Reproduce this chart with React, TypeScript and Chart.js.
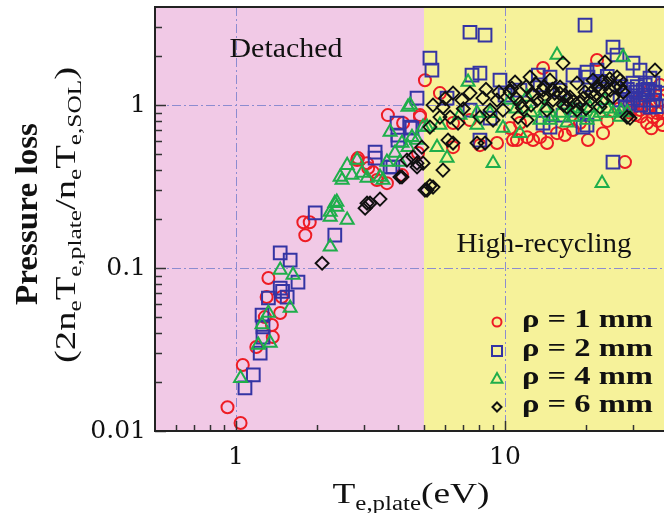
import { useEffect, useRef } from 'react';
import { Chart, registerables } from 'chart.js';

Chart.register(...registerables);

// ---- axes ----
const X_MIN = 0.5;
const X_MAX = 39;
const Y_MIN = 0.01;
const Y_MAX = 4;
const REGION_SPLIT = 5;
const X_TICKS = [0.6, 0.7, 0.8, 0.9, 1, 2, 3, 4, 5, 6, 7, 8, 9, 10, 20, 30];
const X_LABELED = [1, 10];
const Y_TICKS = [0.01, 0.02, 0.03, 0.04, 0.05, 0.06, 0.07, 0.08, 0.09, 0.1, 0.2, 0.3, 0.4, 0.5, 0.6, 0.7, 0.8, 0.9, 1, 2, 3];
const Y_LABELED = [0.01, 0.1, 1];
const GRID_X = [1, 10];
const GRID_Y = [0.1, 1];

// ---- texts ----
const SERIES_LABELS = ['ρ = 1 mm', 'ρ = 2 mm', 'ρ = 4 mm', 'ρ = 6 mm'];
const REGION_LABELS = ['Detached', 'High-recycling'];

// ---- data: [T_e,plate (eV), pressure loss] ----
const RHO1: [number, number][] = [
  [0.93, 0.014], [1.04, 0.0112], [1.06, 0.0254], [1.19, 0.0328], [1.37, 0.0377], [1.36, 0.0447],
  [1.28, 0.05], [1.3, 0.0664], [1.32, 0.0868], [1.46, 0.053], [1.48, 0.0664], [1.78, 0.191],
  [1.81, 0.159], [1.88, 0.191], [2.82, 0.46], [2.84, 0.473], [3.07, 0.44], [3.1, 0.411],
  [3.23, 0.388], [3.34, 0.347], [3.64, 0.332], [3.67, 0.868], [4.18, 0.776], [4.83, 0.868],
  [4.83, 0.844], [4.75, 0.508], [4.14, 0.372], [5.04, 1.42], [5.73, 1.185], [6.41, 0.776],
  [6.41, 0.552], [8.07, 0.568], [9.34, 0.585], [10.71, 0.61], [12.07, 0.636], [13.85, 1.69],
  [21.98, 1.89], [13.5, 0.636], [14.33, 0.585], [15.61, 0.673], [20.35, 0.61], [23.14, 0.673],
  [17.89, 0.703], [12.71, 0.61], [11.08, 0.61], [10.44, 0.723], [11.37, 0.776], [33.72, 0.776],
  [36.74, 0.893], [37.69, 1.073], [31.76, 0.932], [35.49, 0.844], [29.91, 0.972], [33.72, 1.12],
  [27.93, 0.447], [34.6, 1.236], [37.7, 1.33], [30.6, 0.868], [38.5, 0.754], [16.7, 0.655],
  [7.41, 0.809], [26.5, 0.95], [24.0, 0.8], [19.0, 0.78], [32.0, 0.85], [34.0, 0.95],
  [36.0, 1.05], [38.0, 0.9], [31.0, 1.05], [35.0, 0.72], [37.0, 0.8], [33.0, 1.0], [29.0, 0.9],
];
const RHO2: [number, number][] = [
  [1.08, 0.0184], [1.16, 0.0221], [1.23, 0.0301], [1.26, 0.0377], [1.26, 0.0435], [1.25, 0.0515],
  [1.32, 0.0655], [1.46, 0.0754], [1.49, 0.072], [1.59, 0.112], [1.46, 0.124], [1.7, 0.082],
  [1.55, 0.0664], [1.97, 0.218], [2.33, 0.159], [3.29, 0.515], [3.29, 0.473], [3.74, 0.417],
  [3.83, 0.417], [3.97, 0.776], [4.51, 0.723], [4.0, 0.655], [4.0, 0.61], [4.71, 1.104],
  [4.44, 0.733], [5.26, 1.94], [5.35, 1.64], [7.41, 2.8], [8.43, 2.69], [7.54, 1.528],
  [8.07, 1.571], [9.58, 1.423], [6.09, 1.104], [8.8, 0.832], [8.07, 0.61], [19.84, 3.1],
  [25.2, 2.27], [26.09, 2.03], [20.18, 1.594], [21.98, 1.64], [17.89, 1.528], [29.91, 1.81],
  [31.76, 1.64], [34.6, 1.464], [29.91, 1.365], [32.59, 1.236], [35.49, 1.365], [31.76, 1.073],
  [29.15, 1.029], [35.49, 1.073], [34.6, 0.972], [37.69, 1.185], [27.93, 1.15], [30.6, 1.2],
  [33.2, 1.33], [26.77, 1.073], [20.18, 0.754], [25.2, 0.447], [13.85, 0.776], [14.7, 0.733],
  [16.43, 0.868], [18.2, 0.932], [13.5, 1.33], [11.37, 1.236], [16.02, 1.236], [20.7, 1.33],
  [10.0, 1.15], [7.41, 0.932], [14.7, 1.485], [20.35, 1.485], [19.5, 0.733], [13.3, 1.53],
  [28.5, 1.25], [31.0, 1.3], [33.0, 1.15], [34.0, 1.25], [36.0, 1.2], [30.0, 1.1], [32.0, 1.0],
  [27.0, 1.3], [28.0, 0.98], [36.5, 0.98], [24.0, 1.5], [22.5, 1.4],
];
const RHO4: [number, number][] = [
  [1.04, 0.0211], [1.21, 0.0337], [1.34, 0.0347], [1.32, 0.053], [1.59, 0.0568], [1.46, 0.0972],
  [1.63, 0.0906], [2.24, 0.135], [2.24, 0.206], [2.37, 0.237], [2.59, 0.197], [2.33, 0.25],
  [2.24, 0.221], [2.37, 0.254], [2.59, 0.428], [2.82, 0.46], [2.44, 0.362], [2.7, 0.372],
  [3.07, 0.357], [3.43, 0.362], [3.64, 0.447], [3.9, 0.508], [4.07, 0.447], [4.36, 0.552],
  [2.48, 0.347], [2.94, 0.383], [3.52, 0.347], [3.74, 0.683], [4.14, 0.585], [4.51, 0.636],
  [4.96, 0.733], [4.36, 0.972], [4.44, 1.0], [4.71, 0.61], [7.29, 1.384], [5.13, 0.733],
  [5.59, 0.552], [6.09, 0.473], [7.87, 0.754], [7.87, 0.893], [9.83, 0.723], [11.37, 0.673],
  [9.03, 0.44], [15.61, 2.03], [27.47, 1.97], [14.7, 0.809], [17.89, 0.844], [22.56, 0.893],
  [25.2, 0.893], [26.77, 0.844], [20.18, 0.809], [16.02, 0.893], [13.5, 0.809], [12.07, 1.12],
  [10.44, 1.073], [22.95, 0.332], [16.7, 1.0], [20.7, 0.96], [23.5, 1.07], [14.1, 0.96],
  [6.8, 0.87], [8.8, 0.89], [5.73, 0.754], [1.25, 0.045], [18.0, 0.95], [19.0, 0.9],
  [21.5, 0.85], [24.0, 0.95], [15.0, 0.85], [12.5, 0.9], [11.0, 0.95], [27.0, 0.92],
  [28.5, 0.9], [17.0, 0.78],
];
const RHO6: [number, number][] = [
  [2.09, 0.107], [3.07, 0.25], [3.15, 0.25], [3.43, 0.265], [3.02, 0.233], [4.07, 0.362],
  [4.14, 0.362], [4.32, 0.46], [4.71, 0.417], [4.71, 0.44], [4.91, 0.552], [5.04, 0.301],
  [5.13, 0.301], [5.4, 0.314], [5.26, 0.32], [4.55, 0.48], [4.96, 0.44], [5.88, 0.399],
  [6.14, 0.61], [6.41, 0.585], [7.87, 0.585], [8.43, 0.585], [5.4, 1.0], [5.88, 0.972],
  [6.41, 1.185], [6.92, 1.073], [7.41, 1.185], [8.28, 1.104], [5.73, 0.844], [6.25, 0.844],
  [6.69, 0.776], [5.26, 0.733], [10.9, 1.384], [10.44, 1.202], [9.34, 1.073], [8.8, 0.932],
  [9.83, 0.932], [8.07, 0.844], [9.03, 0.809], [11.37, 1.029], [12.07, 0.809], [11.18, 0.844],
  [12.39, 1.485], [14.7, 1.423], [16.02, 1.29], [17.44, 1.12], [19.0, 1.029], [20.7, 1.073],
  [22.56, 1.236], [23.95, 1.365], [26.09, 1.485], [26.77, 1.29], [25.2, 1.12], [21.24, 1.423],
  [18.52, 1.365], [13.85, 1.236], [15.08, 1.073], [17.0, 0.972], [13.15, 1.073], [14.33, 0.932],
  [18.52, 0.932], [22.56, 0.972], [28.41, 0.844], [23.54, 1.836], [16.43, 1.81], [36.11, 1.64],
  [29.15, 0.832], [19.84, 1.2], [21.6, 1.15], [24.6, 1.236], [26.8, 1.42], [16.7, 1.15],
  [15.3, 1.185], [12.7, 1.15], [11.6, 0.96], [10.6, 1.27], [14.0, 1.3], [15.0, 1.25],
  [16.0, 1.18], [17.0, 1.08], [18.0, 1.05], [19.5, 1.1], [21.0, 1.2], [22.0, 1.3], [23.0, 1.4],
  [24.5, 1.45], [25.5, 1.3], [27.5, 1.2], [13.0, 1.35], [12.0, 1.3], [12.5, 1.0], [14.0, 1.1],
  [16.5, 1.0], [23.0, 1.05], [20.0, 0.95], [9.5, 1.2], [8.5, 1.25], [7.0, 0.95], [6.0, 1.1],
  [11.0, 1.1],
];

// ---- styles ----
const PINK = '#f1c9e6';
const YELLOW = '#f6f29a';
const GRID_COLOR = '#8c8cd0';
const COLORS = ['#ee1c24', '#3434a4', '#1fae4b', '#111111'];
const STYLES = ['circle', 'rect', 'triangle', 'rectRot'];
const RADII = [6, 9, 7.5, 6.5];
const SERIF = '"Liberation Serif", "Times New Roman", serif';

const near = (v: number, list: number[]) => list.some((t) => Math.abs(v - t) / t < 1e-6);

type Seg = { t: string; sub?: boolean };

function drawRich(
  ctx: CanvasRenderingContext2D,
  segs: Seg[],
  mainFont: string,
  subFont: string,
  subShift: number,
  cx: number,
  cy: number,
  targetW: number,
  rotate: boolean,
  anchorLeft = false,
) {
  ctx.save();
  const widths = segs.map((s) => {
    ctx.font = s.sub ? subFont : mainFont;
    return ctx.measureText(s.t).width;
  });
  const total = widths.reduce((a, b) => a + b, 0);
  const k = targetW / total;
  ctx.translate(cx, cy);
  if (rotate) ctx.rotate(-Math.PI / 2);
  ctx.scale(k, 1);
  ctx.textAlign = 'left';
  ctx.textBaseline = 'alphabetic';
  ctx.fillStyle = '#111';
  let x = anchorLeft ? 0 : -total / 2;
  segs.forEach((s, i) => {
    ctx.font = s.sub ? subFont : mainFont;
    ctx.fillText(s.t, x, s.sub ? subShift : 0);
    x += widths[i];
  });
  ctx.restore();
}

function drawMarker(ctx: CanvasRenderingContext2D, style: string, x: number, y: number, r: number) {
  ctx.beginPath();
  if (style === 'circle') {
    ctx.arc(x, y, r, 0, Math.PI * 2);
  } else if (style === 'rect') {
    ctx.rect(x - r, y - r, 2 * r, 2 * r);
  } else if (style === 'triangle') {
    const h = r * 1.1;
    ctx.moveTo(x, y - h);
    ctx.lineTo(x + h * 0.9, y + h * 0.6);
    ctx.lineTo(x - h * 0.9, y + h * 0.6);
    ctx.closePath();
  } else {
    ctx.moveTo(x, y - r);
    ctx.lineTo(x + r, y);
    ctx.lineTo(x, y + r);
    ctx.lineTo(x - r, y);
    ctx.closePath();
  }
  ctx.stroke();
}

const zeroPad = (s: any) => {
  s.paddingTop = 0;
  s.paddingBottom = 0;
  s.paddingLeft = 0;
  s.paddingRight = 0;
};

const decorPlugin = {
  id: 'decor',
  beforeDatasetsDraw(chart: any) {
    const { ctx, chartArea: a, scales } = chart;
    const xs = scales.x;
    const ys = scales.y;
    const split = xs.getPixelForValue(REGION_SPLIT);
    ctx.save();
    ctx.fillStyle = PINK;
    ctx.fillRect(a.left, a.top, split - a.left, a.bottom - a.top);
    ctx.fillStyle = YELLOW;
    ctx.fillRect(split, a.top, a.right - split, a.bottom - a.top);

    ctx.strokeStyle = GRID_COLOR;
    ctx.lineWidth = 1;
    ctx.setLineDash([9, 3, 2, 3]);
    GRID_X.forEach((v) => {
      const p = Math.round(xs.getPixelForValue(v)) + 0.5;
      ctx.beginPath();
      ctx.moveTo(p, a.top);
      ctx.lineTo(p, a.bottom);
      ctx.stroke();
    });
    GRID_Y.forEach((v) => {
      const p = Math.round(ys.getPixelForValue(v)) + 0.5;
      ctx.beginPath();
      ctx.moveTo(a.left, p);
      ctx.lineTo(a.right, p);
      ctx.stroke();
    });
    ctx.setLineDash([]);

    // region labels
    drawRich(ctx, [{ t: REGION_LABELS[0] }], `27px ${SERIF}`, `27px ${SERIF}`, 0, 286, 57, 113, false);
    drawRich(ctx, [{ t: REGION_LABELS[1] }], `28px ${SERIF}`, `28px ${SERIF}`, 0, 544, 252, 175, false);
    ctx.restore();
  },
  afterDatasetsDraw(chart: any) {
    const { ctx, chartArea: a, scales } = chart;
    const xs = scales.x;
    const ys = scales.y;
    ctx.save();
    // ticks (inside)
    ctx.strokeStyle = '#333';
    ctx.lineWidth = 1.5;
    X_TICKS.forEach((v) => {
      const p = Math.round(xs.getPixelForValue(v)) + 0.5;
      const len = near(v, X_LABELED) ? 10 : 6;
      ctx.beginPath();
      ctx.moveTo(p, a.bottom);
      ctx.lineTo(p, a.bottom - len);
      ctx.stroke();
    });
    Y_TICKS.forEach((v) => {
      const p = Math.round(ys.getPixelForValue(v)) + 0.5;
      const len = near(v, Y_LABELED) ? 11 : 7;
      ctx.beginPath();
      ctx.moveTo(a.left, p);
      ctx.lineTo(a.left + len, p);
      ctx.stroke();
    });
    // frame
    ctx.strokeStyle = '#222';
    ctx.lineWidth = 2;
    ctx.beginPath();
    ctx.moveTo(a.right, a.top);
    ctx.lineTo(a.left, a.top);
    ctx.lineTo(a.left, a.bottom);
    ctx.lineTo(a.right, a.bottom);
    ctx.stroke();

    // legend
    const rows = [327, 356, 384, 412];
    const mr = [4.5, 5, 5.5, 4.5];
    SERIES_LABELS.forEach((label, i) => {
      ctx.strokeStyle = COLORS[i];
      ctx.lineWidth = 2;
      drawMarker(ctx, STYLES[i], 497, rows[i] - 5, mr[i]);
      drawRich(ctx, [{ t: label }], `bold 25px ${SERIF}`, `bold 25px ${SERIF}`, 0, 522, rows[i], 131, false, true);
    });

    // axis titles
    drawRich(
      ctx,
      [{ t: 'T' }, { t: 'e,plate', sub: true }, { t: '(eV)' }],
      `30px ${SERIF}`,
      `20px ${SERIF}`,
      7,
      411,
      503,
      157,
      false,
    );
    drawRich(ctx, [{ t: 'Pressure loss' }], `bold 32px ${SERIF}`, `bold 32px ${SERIF}`, 0, 37, 214, 182, true);
    drawRich(
      ctx,
      [
        { t: '(2n' },
        { t: 'e', sub: true },
        { t: 'T' },
        { t: 'e,plate', sub: true },
        { t: '/n' },
        { t: 'e', sub: true },
        { t: 'T' },
        { t: 'e,SOL', sub: true },
        { t: ')' },
      ],
      `29px ${SERIF}`,
      `19px ${SERIF}`,
      6,
      75,
      215,
      296,
      true,
    );
    ctx.restore();
  },
};

export default function App() {
  const ref = useRef<HTMLCanvasElement | null>(null);
  useEffect(() => {
    if (!ref.current) return;
    const series = [RHO1, RHO2, RHO4, RHO6];
    const chart = new Chart(ref.current, {
      type: 'scatter',
      data: {
        datasets: series.map((d, i) => ({
          label: SERIES_LABELS[i],
          data: d.map(([x, y]) => ({ x, y })),
          pointStyle: STYLES[i] as any,
          pointRadius: RADII[i],
          pointBorderWidth: i === 3 ? 1.9 : 2,
          borderColor: COLORS[i],
          backgroundColor: 'rgba(0,0,0,0)',
          order: 4 - i,
        })),
      },
      options: {
        responsive: false,
        animation: false,
        events: [],
        layout: { autoPadding: false, padding: { top: 7, right: 0, left: 0, bottom: 0 } },
        plugins: { legend: { display: false }, tooltip: { enabled: false } },
        scales: {
          x: {
            type: 'logarithmic',
            min: X_MIN,
            max: X_MAX,
            afterBuildTicks: (s: any) => {
              s.ticks = X_TICKS.map((v) => ({ value: v }));
            },
            afterFit: (s: any) => {
              s.height = 82;
              zeroPad(s);
            },
            grid: { display: false, drawTicks: false },
            border: { display: false },
            ticks: {
              autoSkip: false,
              maxRotation: 0,
              padding: 11,
              color: '#111',
              font: { family: 'DejaVu Serif', size: 25 },
              callback: (v: any) => (near(Number(v), X_LABELED) ? String(Number(v)) : ''),
            },
          },
          y: {
            type: 'logarithmic',
            min: Y_MIN,
            max: Y_MAX,
            afterBuildTicks: (s: any) => {
              s.ticks = Y_TICKS.map((v) => ({ value: v }));
            },
            afterFit: (s: any) => {
              s.width = 155;
              zeroPad(s);
            },
            grid: { display: false, drawTicks: false },
            border: { display: false },
            ticks: {
              autoSkip: false,
              padding: 9,
              color: '#111',
              font: { family: 'DejaVu Serif', size: 25 },
              callback: (v: any) => (near(Number(v), Y_LABELED) ? String(Number(v)) : ''),
            },
          },
        },
      },
      plugins: [decorPlugin],
    });
    return () => chart.destroy();
  }, []);
  return (
    <div style={{ position: 'fixed', left: 0, top: 0, width: 664, height: 513, background: '#fff' }}>
      <canvas ref={ref} width={664} height={513} style={{ display: 'block' }} />
    </div>
  );
}
